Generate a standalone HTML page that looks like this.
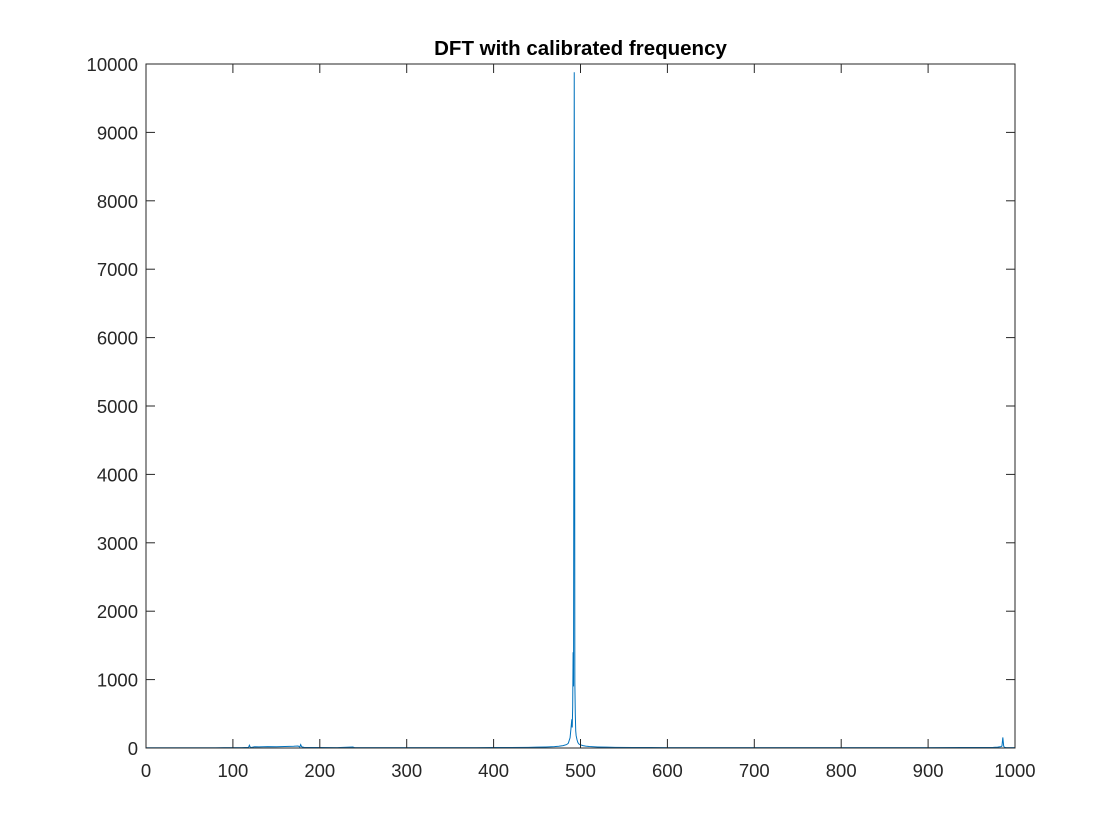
<!DOCTYPE html>
<html><head><meta charset="utf-8"><style>
html,body{margin:0;padding:0;background:#fff;}
svg{display:block;font-family:"Liberation Sans",sans-serif;}
</style></head><body>
<svg id="chart" width="1120" height="840">
<rect x="0" y="0" width="1120" height="840" fill="#fff"/>
<text x="580.5" y="55" text-anchor="middle" font-size="20.5" font-weight="bold" fill="#000">DFT with calibrated frequency</text>
<g id="plot"></g>
<g id="axes"></g>
</svg>
<script>
const xTicks=[0,100,200,300,400,500,600,700,800,900,1000];
const yTicks=[0,1000,2000,3000,4000,5000,6000,7000,8000,9000,10000];
const freqs=[0,10,20,30,40,50,60,70,80,90,100,110,118,119,120,121,125,130,140,150,160,170,175,177,178,179,180,182,190,200,220,238,240,260,280,300,320,340,360,380,400,420,440,450,460,470,475,480,484,486,488,489,490,490.5,491,491.5,492,492.8,493.2,493.5,494,494.5,495,496,497,498,500,503,506,510,515,520,530,540,560,580,600,650,700,750,800,850,900,940,960,975,980,984,985,986,987,988,990,1000];
const mags=[4,3,4,3,4,3,4,3,4,5,5,6,10,40,12,8,18,16,20,18,22,25,30,15,50,20,14,10,8,7,6,15,6,6,5,5,5,5,6,6,7,8,10,12,15,20,25,35,50,70,150,280,420,300,600,1400,900,9880,6500,950,500,250,180,120,80,60,45,35,28,22,18,15,12,10,8,7,6,5,5,5,5,5,6,7,8,10,12,20,30,155,25,10,6,5];
const X0=146,X1=1015,Y0=748,Y1=64;
const xs=v=>X0+(v-0)/(1000-0)*(X1-X0);
const ys=v=>Y0-(v-0)/(10000-0)*(Y0-Y1);
const NS="http://www.w3.org/2000/svg";
const plot=document.getElementById('plot'),axes=document.getElementById('axes');
let d='';
freqs.forEach((f,i)=>{d+=(i?'L':'M')+xs(f).toFixed(2)+','+ys(mags[i]).toFixed(2);});
const line=document.createElementNS(NS,'path');
line.setAttribute('d',d);line.setAttribute('fill','none');line.setAttribute('stroke','#0072BD');line.setAttribute('stroke-width','1');


plot.appendChild(line);
const box=document.createElementNS(NS,'rect');
box.setAttribute('x',X0);box.setAttribute('y',Y1);box.setAttribute('width',X1-X0);box.setAttribute('height',Y0-Y1);
box.setAttribute('fill','none');box.setAttribute('stroke','#262626');box.setAttribute('stroke-width','1');


axes.appendChild(box);
xTicks.forEach(t=>{
  const x=xs(t);
  [[Y0,Y0-9],[Y1,Y1+9]].forEach(p=>{const l=document.createElementNS(NS,'line');
    l.setAttribute('x1',x);l.setAttribute('x2',x);l.setAttribute('y1',p[0]);l.setAttribute('y2',p[1]);l.setAttribute('stroke','#262626');
    
    
    axes.appendChild(l);});
  const tx=document.createElementNS(NS,'text');
  tx.setAttribute('x',x);tx.setAttribute('y',Y0+29);tx.setAttribute('text-anchor','middle');tx.setAttribute('font-size','18.5');tx.setAttribute('fill','#262626');
  tx.textContent=t;
  
  
  axes.appendChild(tx);
});
yTicks.forEach(t=>{
  const y=ys(t);
  [[X0,X0+9],[X1,X1-9]].forEach(p=>{const l=document.createElementNS(NS,'line');
    l.setAttribute('x1',p[0]);l.setAttribute('x2',p[1]);l.setAttribute('y1',y);l.setAttribute('y2',y);l.setAttribute('stroke','#262626');
    
    
    axes.appendChild(l);});
  const tx=document.createElementNS(NS,'text');
  tx.setAttribute('x',X0-8);tx.setAttribute('y',y+7);tx.setAttribute('text-anchor','end');tx.setAttribute('font-size','18.5');tx.setAttribute('fill','#262626');
  tx.textContent=t;
  
  
  axes.appendChild(tx);
});
</script>
</body></html>
